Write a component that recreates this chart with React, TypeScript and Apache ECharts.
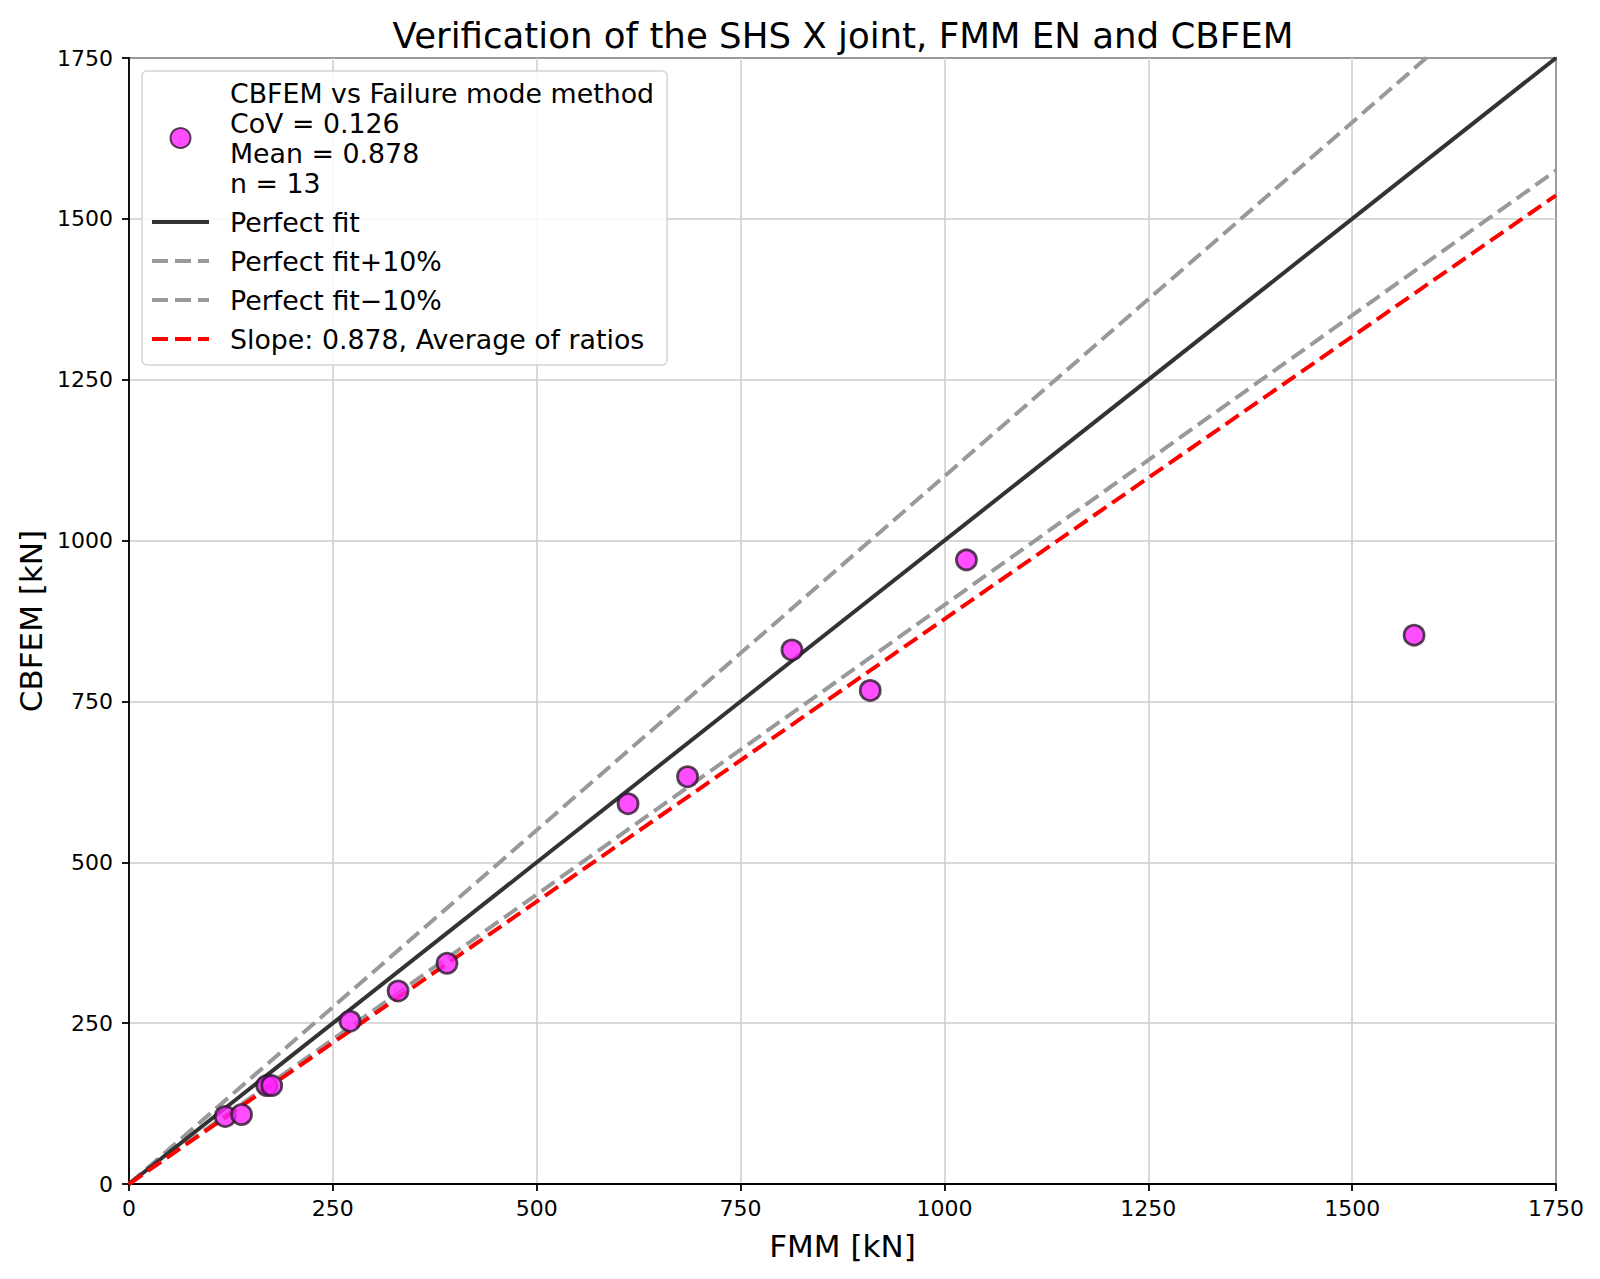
import React, { useEffect, useRef } from 'react';
import * as echarts from 'echarts';

// FMM resistance vs CBFEM resistance [kN]
const fmmValues = [118, 138, 169, 175, 271, 330, 390, 612, 685, 813, 909, 1027, 1576];
const cbfemValues = [105, 108, 153, 153, 253, 300, 343, 591, 633, 830, 767, 970, 853];

const lineX = [0, 1750];
const slopePerfect = 1.0;
const slopePlus = 1.1;
const slopeMinus = 0.9;
const slopeMean = 0.878;

const axisTicks = [0, 250, 500, 750, 1000, 1250, 1500, 1750];

const scatterName = 'CBFEM vs Failure mode method\nCoV = 0.126\nMean = 0.878\nn = 13';
const lineNames = [
  'Perfect fit',
  'Perfect fit+10%',
  'Perfect fit\u221210%',
  'Slope: 0.878, Average of ratios',
];

const FONT = '"DejaVu Sans", sans-serif';

const lineData = (slope: number) => lineX.map((x) => [x, x * slope]);

const App: React.FC = () => {
  const chartRef = useRef<HTMLDivElement>(null);

  useEffect(() => {
    if (!chartRef.current) return;
    const chart = echarts.init(chartRef.current, undefined, { renderer: 'svg' });

    const axisCommon = {
      type: 'value',
      min: axisTicks[0],
      max: axisTicks[axisTicks.length - 1],
      interval: 250,
      nameLocation: 'middle',
      nameTextStyle: { fontSize: 31, color: '#000', fontFamily: FONT },
      axisLine: { show: true, lineStyle: { color: '#000', width: 1.8 } },
      axisTick: { show: true, inside: false, length: 7, lineStyle: { color: '#000', width: 1.8 } },
      splitLine: { show: true, lineStyle: { color: '#cdcdcd', width: 1.5 } },
    };

    const tickLabel = (margin: number) => ({
      fontSize: 22,
      color: '#000',
      fontFamily: FONT,
      margin,
      formatter: (v: number) => String(v),
    });

    const option = {
      animation: false,
      backgroundColor: '#fff',
      title: {
        text: 'Verification of the SHS X joint, FMM EN and CBFEM',
        left: 838,
        top: 12,
        textAlign: 'center',
        textStyle: { fontSize: 35.6, fontWeight: 'normal', color: '#000', fontFamily: FONT },
      },
      grid: {
        left: 129,
        right: 44,
        top: 58,
        bottom: 95,
        show: true,
        borderColor: '#000',
        borderWidth: 1.8,
        backgroundColor: 'transparent',
      },
      legend: {
        orient: 'vertical',
        left: 142,
        top: 71,
        data: [
          { name: scatterName },
          ...lineNames.map((name) => ({ name, itemStyle: { opacity: 0 } })),
        ],
        itemWidth: 57,
        itemHeight: 20,
        itemGap: 9,
        padding: [7, 13, 11, 8],
        backgroundColor: 'rgba(255,255,255,0.85)',
        borderColor: '#d3d3d3',
        borderWidth: 1.5,
        borderRadius: 5,
        lineStyle: { width: 4 },
        textStyle: {
          fontSize: 26.8,
          lineHeight: 30,
          color: '#000',
          fontFamily: FONT,
          padding: [0, 0, 0, 16],
        },
      },
      xAxis: {
        ...axisCommon,
        name: 'FMM [kN]',
        nameGap: 46,
        axisLabel: tickLabel(13),
      },
      yAxis: {
        ...axisCommon,
        name: 'CBFEM [kN]',
        nameGap: 63,
        axisLabel: tickLabel(16),
      },
      series: [
        {
          name: scatterName,
          type: 'scatter',
          z: 10,
          symbol: 'circle',
          symbolSize: 20,
          data: fmmValues.map((x, i) => [x, cbfemValues[i]]),
          itemStyle: {
            color: '#ff22ff',
            borderColor: '#2a1a2a',
            borderWidth: 2.8,
          },
        },
        {
          name: lineNames[0],
          type: 'line',
          z: 5,
          symbol: 'none',
          data: lineData(slopePerfect),
          lineStyle: { color: '#333333', width: 4, type: 'solid' },
          itemStyle: { color: '#333333' },
        },
        {
          name: lineNames[1],
          type: 'line',
          z: 4,
          symbol: 'none',
          data: lineData(slopePlus),
          lineStyle: { color: '#999999', width: 4, type: [16, 7] },
          itemStyle: { color: '#999999' },
        },
        {
          name: lineNames[2],
          type: 'line',
          z: 4,
          symbol: 'none',
          data: lineData(slopeMinus),
          lineStyle: { color: '#999999', width: 4, type: [16, 7] },
          itemStyle: { color: '#999999' },
        },
        {
          name: lineNames[3],
          type: 'line',
          z: 6,
          symbol: 'none',
          data: lineData(slopeMean),
          lineStyle: { color: '#ff0000', width: 4, type: [16, 7] },
          itemStyle: { color: '#ff0000' },
        },
      ],
    };

    chart.setOption(option as any);

    return () => {
      chart.dispose();
    };
  }, []);

  return (
    <div
      ref={chartRef}
      style={{ position: 'absolute', left: 0, top: 0, width: '1600px', height: '1279px' }}
    />
  );
};

export default App;
